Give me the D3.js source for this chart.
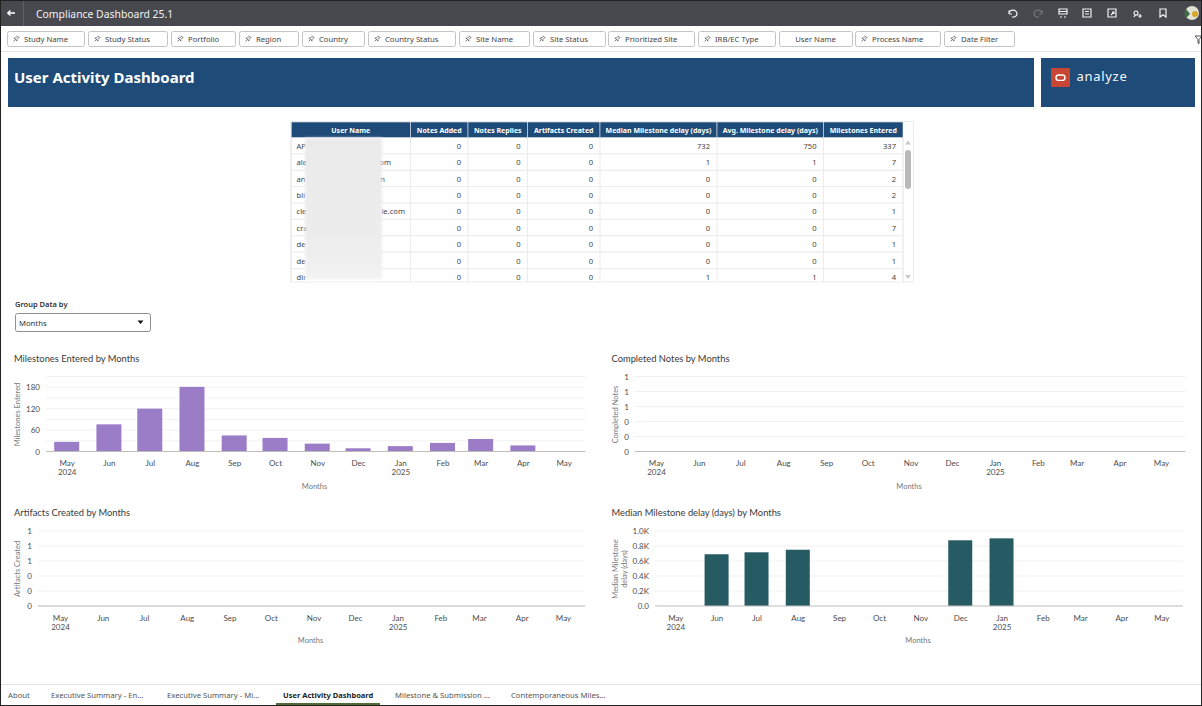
<!DOCTYPE html>
<html>
<head>
<meta charset="utf-8">
<title>User Activity Dashboard</title>
<script src="https://cdn.jsdelivr.net/npm/d3@7/dist/d3.min.js"></script>
<style>
  html, body { margin: 0; padding: 0; background: #fff; overflow: hidden; }
  svg { display: block; font-family: "Noto Sans", sans-serif; }
  .axis line { stroke: none; }
  .axis text { font-family: Lato, sans-serif; font-size: 8px; fill: #4d4d4d; }
</style>
</head>
<body>
<svg id="page" width="1202" height="706"></svg>
<script>
// filter bar
const filterNames = ["Study Name", "Study Status", "Portfolio", "Region", "Country", "Country Status", "Site Name",
  "Site Status", "Prioritized Site", "IRB/EC Type", "User Name", "Process Name", "Date Filter"];
const filterEdges = [[7, 84], [88, 167], [171, 235], [239, 298], [302, 364], [368, 455], [459, 529],
  [533, 605], [608, 694], [698, 775], [779, 852], [855, 940], [944, 1014]];

// table
const tableHeaders = ["User Name", "Notes Added", "Notes Replies", "Artifacts Created",
  "Median Milestone delay (days)", "Avg. Milestone delay (days)", "Milestones Entered"];
const userStart = ["AP", "ale", "an", "bli", "cle", "cra", "de", "de", "dir"];
const userEnd = ["", "om", "n", "", "le.com", "", "", "", ""];
const notesAdded = [0, 0, 0, 0, 0, 0, 0, 0, 0];
const notesReplies = [0, 0, 0, 0, 0, 0, 0, 0, 0];
const artifactsCreated = [0, 0, 0, 0, 0, 0, 0, 0, 0];
const medianDelay = [732, 1, 0, 0, 0, 0, 0, 0, 1];
const avgDelay = [750, 1, 0, 0, 0, 0, 0, 0, 1];
const milestonesEntered = [337, 7, 2, 2, 1, 7, 1, 1, 4];

// charts
const months = ["2024-05", "2024-06", "2024-07", "2024-08", "2024-09", "2024-10", "2024-11",
  "2024-12", "2025-01", "2025-02", "2025-03", "2025-04", "2025-05"];
const monthNames = ["May", "Jun", "Jul", "Aug", "Sep", "Oct", "Nov", "Dec", "Jan", "Feb", "Mar", "Apr", "May"];
const yearNames = ["2024", "", "", "", "", "", "", "", "2025", "", "", "", ""];
const milestonesByMonth = [27, 76, 120, 181, 45, 38, 22, 9, 15, 24, 35, 17, 0];
const notesByMonth = [0, 0, 0, 0, 0, 0, 0, 0, 0, 0, 0, 0, 0];
const artifactsByMonth = [0, 0, 0, 0, 0, 0, 0, 0, 0, 0, 0, 0, 0];
const medianByMonth = [0, 690, 716, 750, 0, 0, 0, 876, 902, 0, 0, 0, 0];
const tabNames = ["About", "Executive Summary - En...", "Executive Summary - Mi...", "User Activity Dashboard",
  "Milestone & Submission ...", "Contemporaneous Miles..."];
const tabX = [8, 51, 167, 283, 395, 511];

const svg = d3.select("#page");
const parseMonth = d3.utcParse("%Y-%m");
const monthDates = months.map(parseMonth);

function label(parent, x, y, txt, size, fill, extra) {
  const t = parent.append("text").attr("x", x).attr("y", y).attr("font-size", size).attr("fill", fill).text(txt);
  if (extra) Object.keys(extra).forEach(k => t.attr(k, extra[k]));
  return t;
}

const defs = svg.append("defs");
// blur used for the hidden user names
const blur = defs.append("filter").attr("id", "soft")
  .attr("x", "-10%").attr("y", "-10%").attr("width", "120%").attr("height", "120%");
blur.append("feGaussianBlur").attr("stdDeviation", 1.6);
const smear = defs.append("linearGradient").attr("id", "smear").attr("x1", 0).attr("x2", 0).attr("y1", 0).attr("y2", 1);
smear.append("stop").attr("offset", "0%").attr("stop-color", "#eaeaea");
smear.append("stop").attr("offset", "70%").attr("stop-color", "#ececec");
smear.append("stop").attr("offset", "100%").attr("stop-color", "#f2f2f2");
defs.append("clipPath").attr("id", "tableClip").append("rect")
  .attr("x", 285).attr("y", 118).attr("width", 635).attr("height", 164);

// top bar
svg.append("rect").attr("width", 1202).attr("height", 26).attr("fill", "#47494f");
svg.append("line").attr("x1", 23.5).attr("x2", 23.5).attr("y1", 0).attr("y2", 26).attr("stroke", "#5f6167");
svg.append("path").attr("d", "M7.5 13H15M7.5 13l3-2.5M7.5 13l3 2.5").attr("stroke", "#fff").attr("stroke-width", 1.3).attr("fill", "none");
label(svg, 36, 18, "Compliance Dashboard 25.1", 10.4, "#f2f2f2");

const iconX = [1013, 1038, 1063, 1087, 1112, 1138, 1163];
const iconPaths = [
  "M-4 1a4 3.5 0 1 1 3 3M-4 1v-3.5M-4 1h3",
  "M4 1a4 3.5 0 1 0-3 3M4 1v-3.5M4 1h-3",
  "M-4-4h8v5h-8zM-3 4h2M1 4h2M-4 -1.5h8",
  "M-4-4h8v8h-8zM-2-1.5h4M-2 1h4",
  "M-4-4h8v8h-8zM-1 2l3-3M0-1h2v2",
  "M-2-2a2 2 0 1 0 .01 0M-4 4a3 3 0 0 1 4-2M2 1v4M0 3h4",
  "M-3-4h6v8l-3-2.2-3 2.2z"
];
svg.selectAll(".topicon").data(iconX).join("path")
  .attr("class", "topicon")
  .attr("transform", d => `translate(${d},13)`)
  .attr("d", (d, i) => iconPaths[i])
  .attr("fill", "none")
  .attr("stroke", (d, i) => i === 1 ? "#75777c" : "#f2f2f2")
  .attr("stroke-width", 1.2);
svg.append("circle").attr("cx", 1192).attr("cy", 13).attr("r", 7).attr("fill", "#dfe3d6");
svg.append("path").attr("d", "M1186 9a7 7 0 0 0 0 9l4-4z").attr("fill", "#3e6b45");
svg.append("circle").attr("cx", 1195).attr("cy", 14).attr("r", 3).attr("fill", "#d8a32c");

// filter bar
svg.append("line").attr("x1", 0).attr("x2", 1202).attr("y1", 51.5).attr("y2", 51.5).attr("stroke", "#e6e6e6");
const pills = svg.selectAll(".pill").data(filterNames).join("g").attr("class", "pill");
pills.append("rect")
  .attr("x", (d, i) => filterEdges[i][0] + 0.5).attr("y", 31.5)
  .attr("width", (d, i) => filterEdges[i][1] - filterEdges[i][0]).attr("height", 15)
  .attr("rx", 2).attr("fill", "#fff").attr("stroke", "#c4c4c4");
pills.append("text")
  .attr("x", (d, i) => d === "User Name" ? (filterEdges[i][0] + filterEdges[i][1]) / 2 : filterEdges[i][0] + 17)
  .attr("text-anchor", d => d === "User Name" ? "middle" : "start")
  .attr("y", 42).attr("font-size", 7.7).attr("fill", "#444").text(d => d);
pills.filter(d => d !== "User Name").append("path")
  .attr("transform", d => `translate(${filterEdges[filterNames.indexOf(d)][0] + 9},39) rotate(45)`)
  .attr("d", "M-1.6-3h3.2M-1-3v2.6l-1.2 1.2h4.4L1-.4V-3M0 .8V3.4")
  .attr("fill", "none").attr("stroke", "#555").attr("stroke-width", 0.7);
svg.append("path").attr("d", "M1195 36h7M1195 36l3 3.5v3.5l1 .8v-4.3l3-3.5").attr("fill", "none").attr("stroke", "#555");

// banner
svg.append("rect").attr("x", 8).attr("y", 58).attr("width", 1026).attr("height", 49).attr("fill", "#1e4b78");
svg.append("rect").attr("x", 1041).attr("y", 58).attr("width", 154).attr("height", 49).attr("fill", "#1e4b78");
label(svg, 14, 83, "User Activity Dashboard", 15, "#fff", { "font-weight": 700 });
svg.append("rect").attr("x", 1051).attr("y", 68).attr("width", 19).attr("height", 19).attr("rx", 1).attr("fill", "#c74634");
svg.append("rect").attr("x", 1056).attr("y", 75).attr("width", 9).attr("height", 5.4).attr("rx", 2.7).attr("fill", "none").attr("stroke", "#fff").attr("stroke-width", 1.4);
label(svg, 1076.5, 81, "analyze", 13, "#f4f6f8", { "letter-spacing": "0.7px" });

// table, columns and rows come from scales
const colEdges = [291, 410.5, 468, 527.5, 600, 717, 823.5, 903];
const rowY = d3.scaleBand().domain(d3.range(userStart.length)).range([137.5, 285]);
const tableCols = [notesAdded, notesReplies, artifactsCreated, medianDelay, avgDelay, milestonesEntered];

const tableG = svg.append("g").attr("clip-path", "url(#tableClip)");
tableG.selectAll(".row").data(userStart).join("rect").attr("class", "row")
  .attr("x", 291).attr("width", 612)
  .attr("y", (d, i) => rowY(i)).attr("height", rowY.bandwidth())
  .attr("fill", "#fff").attr("stroke", "#ececec").attr("stroke-width", 1);
tableG.selectAll(".colline").data(colEdges).join("line").attr("class", "colline")
  .attr("x1", d => d).attr("x2", d => d).attr("y1", 137.5).attr("y2", 282)
  .attr("stroke", "#ececec");
tableG.selectAll(".head").data(tableHeaders).join("rect").attr("class", "head")
  .attr("x", (d, i) => colEdges[i]).attr("y", 122)
  .attr("width", (d, i) => colEdges[i + 1] - colEdges[i]).attr("height", 15.5)
  .attr("fill", "#1e4b78").attr("stroke", "#dfe6ee").attr("stroke-width", 0.6);
tableG.selectAll(".headtxt").data(tableHeaders).join("text").attr("class", "headtxt")
  .attr("x", (d, i) => (colEdges[i] + colEdges[i + 1]) / 2).attr("y", 132.5)
  .attr("text-anchor", "middle").attr("font-size", 7).attr("font-weight", 700).attr("fill", "#fff").text(d => d);

tableCols.forEach((col, c) => {
  tableG.selectAll(".c" + c).data(col).join("text").attr("class", "c" + c)
    .attr("x", colEdges[c + 2] - 7).attr("y", (d, i) => rowY(i) + 11.3)
    .attr("text-anchor", "end").attr("font-size", 7.6).attr("fill", "#444").text(d => d);
});
tableG.selectAll(".ustart").data(userStart).join("text").attr("class", "ustart")
  .attr("x", 296.5).attr("y", (d, i) => rowY(i) + 11.3).attr("font-size", 7.6).attr("fill", "#444").text(d => d);
tableG.selectAll(".uend").data(userEnd).join("text").attr("class", "uend")
  .attr("x", 405).attr("y", (d, i) => rowY(i) + 11.3).attr("text-anchor", "end").attr("font-size", 7.6).attr("fill", "#444")
  .attr("dx", (d, i) => i === 1 ? -14 : i === 2 ? -20 : 0).text(d => d);

// redaction smear
svg.append("rect").attr("x", 305).attr("y", 138).attr("width", 77).attr("height", 141).attr("fill", "url(#smear)").attr("filter", "url(#soft)");

// table scrollbar and outer frame
svg.append("rect").attr("x", 291).attr("y", 121.5).attr("width", 622.5).attr("height", 160.5).attr("fill", "none").attr("stroke", "#ececec");
svg.append("rect").attr("x", 905).attr("y", 150).attr("width", 6).attr("height", 39).attr("rx", 3).attr("fill", "#b9b9b9");
svg.append("path").attr("d", "M908 140.5l3 4h-6zM908 279l3-4h-6z").attr("fill", "#c9c9c9");

// group by control
label(svg, 15, 307, "Group Data by", 7.5, "#333", { "font-weight": 600 });
svg.append("rect").attr("x", 15.5).attr("y", 313.5).attr("width", 135).attr("height", 18).attr("rx", 2).attr("fill", "#fff").attr("stroke", "#8f8f8f");
label(svg, 19, 325.5, "Months", 7.7, "#333");
svg.append("path").attr("d", "M137.5 320.5h6l-3 3.6z").attr("fill", "#111");

function drawChart(opt) {
  const g = svg.append("g");
  // the months sit on a real time axis, so February comes out narrower
  const x = d3.scaleUtc().domain(d3.extent(monthDates)).range([opt.first, opt.last]);
  const y = d3.scaleLinear().domain(opt.domain).range([opt.bottom, opt.bottom - 75]);

  label(g, opt.titleX, opt.bottom - 90, opt.title, 9.35, "#3a3a3a", { "font-family": "Lato, sans-serif" });

  g.selectAll(".grid").data(opt.grid).join("line").attr("class", "grid")
    .attr("x1", opt.left).attr("x2", opt.right)
    .attr("y1", d => y(d)).attr("y2", d => y(d))
    .attr("stroke", "#f1f1f1").attr("stroke-width", 1);

  g.selectAll(".bar").data(opt.values).join("rect").attr("class", "bar")
    .attr("x", (d, i) => x(monthDates[i]) - opt.barWidth / 2)
    .attr("width", opt.barWidth)
    .attr("y", d => y(d))
    .attr("height", d => y(0) - y(d))
    .attr("fill", opt.color);

  g.append("line").attr("x1", opt.left).attr("x2", opt.right)
    .attr("y1", opt.bottom).attr("y2", opt.bottom)
    .attr("stroke", "#bdbdbd").attr("stroke-width", 1.2);

  const yAxis = d3.axisLeft(y).tickValues(opt.ticks).tickFormat(opt.format).tickSize(0).tickPadding(6);
  g.append("g").attr("class", "axis").attr("transform", `translate(${opt.left},0)`).call(yAxis)
    .call(s => s.select(".domain").remove());

  const xAxis = d3.axisBottom(x).tickValues(monthDates).tickSize(0).tickPadding(9)
    .tickFormat((d, i) => monthNames[i]);
  const ax = g.append("g").attr("class", "axis").attr("transform", `translate(0,${opt.bottom})`).call(xAxis)
    .call(s => s.select(".domain").remove());
  ax.selectAll(".tick").each(function (d, i) {
    if (!yearNames[i]) return;
    d3.select(this).append("text").attr("y", 23.5).attr("text-anchor", "middle").text(yearNames[i]);
  });

  label(g, (opt.left + opt.right) / 2 - 1, opt.bottom + 37, "Months", 7.5, "#777", { "text-anchor": "middle", "font-family": "Lato, sans-serif" });

  const yt = g.append("text").attr("transform", `translate(${opt.titleX + 6},${opt.bottom - 37}) rotate(-90)`)
    .attr("text-anchor", "middle").attr("font-size", 7.5).attr("fill", "#777").attr("font-family", "Lato, sans-serif");
  opt.yTitle.forEach((line, i) => {
    yt.append("tspan").attr("x", 0).attr("dy", i === 0 ? 0 : 9).text(line);
  });
}

const zeroToOne = [0, 0.2, 0.4, 0.6, 0.8, 1];
const wholeNumber = d3.format(".0f");

drawChart({ title: "Milestones Entered by Months", yTitle: ["Milestones Entered"], titleX: 14, left: 46, right: 585, first: 66.7, last: 563.7, bottom: 451.5,
  domain: [0, 210], grid: [30, 60, 90, 120, 150, 180, 210], ticks: [0, 60, 120, 180], format: d3.format("d"),
  values: milestonesByMonth, color: "#9b7cc6", barWidth: 25 });
drawChart({ title: "Completed Notes by Months", yTitle: ["Completed Notes"], titleX: 611.5, left: 635, right: 1185, first: 656, last: 1161, bottom: 451.5,
  domain: [0, 1], grid: zeroToOne, ticks: zeroToOne, format: wholeNumber, values: notesByMonth, color: "#9b7cc6", barWidth: 25 });
drawChart({ title: "Artifacts Created by Months", yTitle: ["Artifacts Created"], titleX: 14, left: 38, right: 585, first: 60, last: 563, bottom: 606,
  domain: [0, 1], grid: zeroToOne, ticks: zeroToOne, format: wholeNumber, values: artifactsByMonth, color: "#9b7cc6", barWidth: 25 });
drawChart({ title: "Median Milestone delay (days) by Months", yTitle: ["Median Milestone", "delay (days)"], titleX: 611.5, left: 655, right: 1183, first: 675.3, last: 1161.3, bottom: 606,
  domain: [0, 1000], grid: [200, 400, 600, 800, 1000], ticks: [0, 200, 400, 600, 800, 1000],
  format: d => (d / 1000).toFixed(1) + (d ? "K" : ""), values: medianByMonth, color: "#275b63", barWidth: 24 });

// bottom tabs
svg.append("line").attr("x1", 0).attr("x2", 1202).attr("y1", 684.5).attr("y2", 684.5).attr("stroke", "#e4e4e4");
svg.selectAll(".tab").data(tabNames).join("text").attr("class", "tab")
  .attr("x", (d, i) => tabX[i]).attr("y", 698).attr("font-size", (d, i) => i === 3 ? 7.5 : 7.7)
  .attr("font-weight", (d, i) => i === 3 ? 700 : 400)
  .attr("fill", (d, i) => i === 3 ? "#222" : "#555").text(d => d);
svg.append("rect").attr("x", 276).attr("y", 703).attr("width", 104).attr("height", 2).attr("fill", "#4f6b3a");

// screenshot frame
svg.append("rect").attr("x", 0.5).attr("y", 0.5).attr("width", 1201).attr("height", 705).attr("fill", "none").attr("stroke", "#222");
</script>
</body>
</html>
